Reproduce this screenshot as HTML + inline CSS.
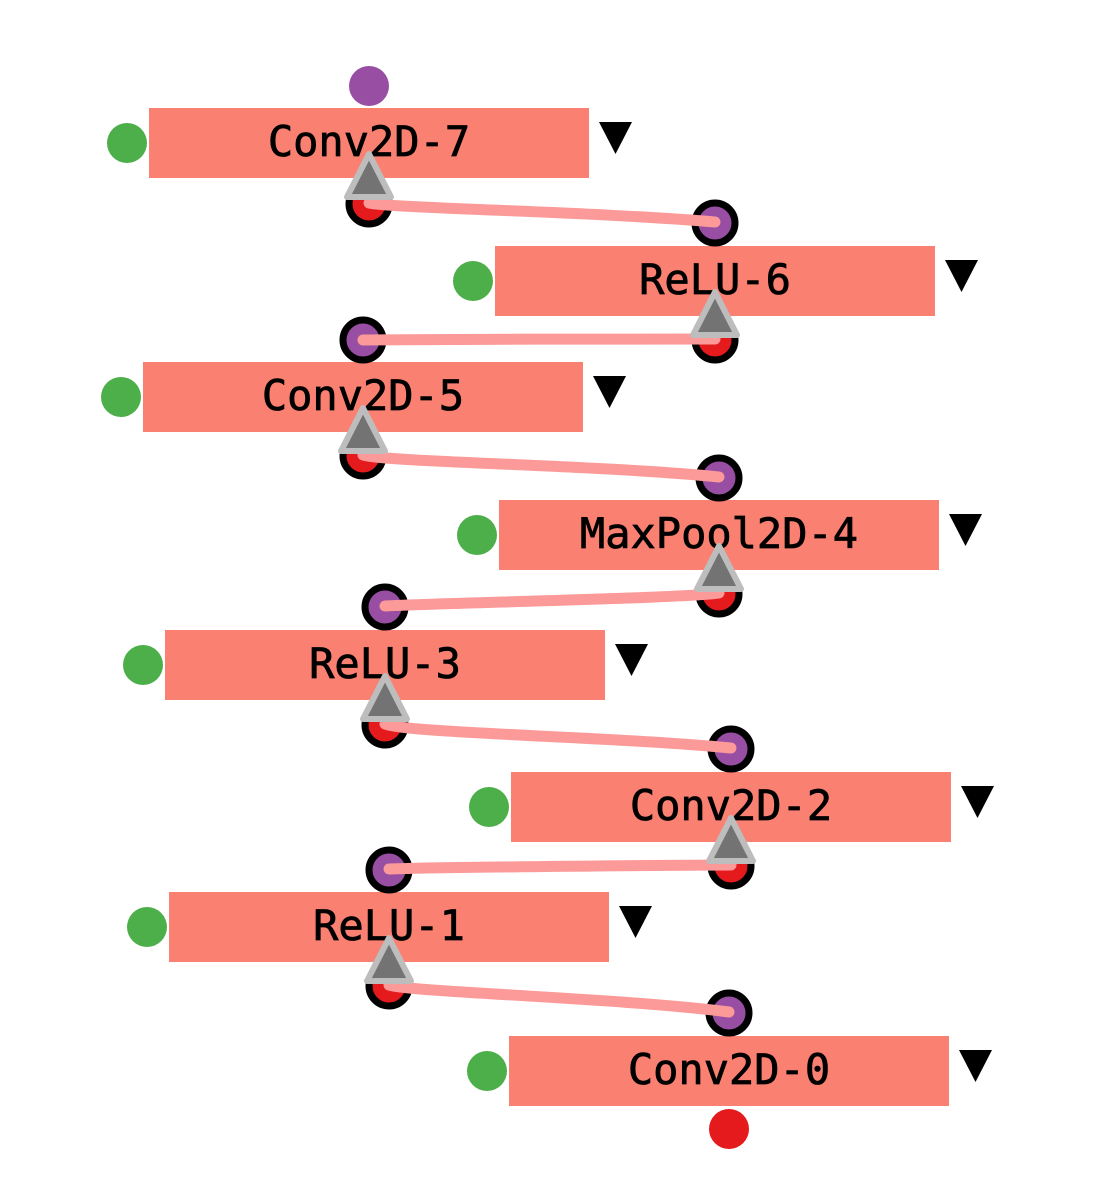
<!DOCTYPE html>
<html><head><meta charset="utf-8"><style>
html,body{margin:0;padding:0;background:#fff;}
svg{display:block;}
text{font-family:"DejaVu Sans Mono","Liberation Mono",monospace;font-size:42px;font-weight:normal;fill:#000;stroke:#000;stroke-width:0.8px;text-anchor:middle;}
</style></head><body>
<svg width="1106" height="1181" viewBox="0 0 1106 1181" xmlns="http://www.w3.org/2000/svg">
<g fill="#fa8072">
<rect x="149" y="108" width="440" height="70"/>
<rect x="495" y="246" width="440" height="70"/>
<rect x="143" y="362" width="440" height="70"/>
<rect x="499" y="500" width="440" height="70"/>
<rect x="165" y="630" width="440" height="70"/>
<rect x="511" y="772" width="440" height="70"/>
<rect x="169" y="892" width="440" height="70"/>
<rect x="509" y="1036" width="440" height="70"/>
</g>
<g>
<text x="369" y="156">Conv2D-7</text>
<text x="715" y="294">ReLU-6</text>
<text x="363" y="410">Conv2D-5</text>
<text x="719" y="548">MaxPool2D-4</text>
<text x="385" y="678">ReLU-3</text>
<text x="731" y="820">Conv2D-2</text>
<text x="389" y="940">ReLU-1</text>
<text x="729" y="1084">Conv2D-0</text>
</g>
<g fill="#4daf4a">
<circle cx="127" cy="143" r="20"/>
<circle cx="473" cy="281" r="20"/>
<circle cx="121" cy="397" r="20"/>
<circle cx="477" cy="535" r="20"/>
<circle cx="143" cy="665" r="20"/>
<circle cx="489" cy="807" r="20"/>
<circle cx="147" cy="927" r="20"/>
<circle cx="487" cy="1071" r="20"/>
</g>
<g fill="#000">
<polygon points="599,122 632,122 615.5,154"/>
<polygon points="945,260 978,260 961.5,292"/>
<polygon points="593,376 626,376 609.5,408"/>
<polygon points="949,514 982,514 965.5,546"/>
<polygon points="615,644 648,644 631.5,676"/>
<polygon points="961,786 994,786 977.5,818"/>
<polygon points="619,906 652,906 635.5,938"/>
<polygon points="959,1050 992,1050 975.5,1082"/>
</g>
<circle cx="369" cy="86" r="20" fill="#984ea3"/>
<circle cx="729" cy="1129" r="20" fill="#e41a1c"/>
<g fill="#e41a1c" stroke="#000" stroke-width="7">
<circle cx="369" cy="204" r="20"/>
<circle cx="715" cy="340" r="20"/>
<circle cx="363" cy="456" r="20"/>
<circle cx="719" cy="594" r="20"/>
<circle cx="385" cy="725" r="20"/>
<circle cx="731" cy="866" r="20"/>
<circle cx="389" cy="986" r="20"/>
</g>
<g fill="#984ea3" stroke="#000" stroke-width="7">
<circle cx="715" cy="223" r="20"/>
<circle cx="363" cy="340" r="20"/>
<circle cx="719" cy="478" r="20"/>
<circle cx="385" cy="607" r="20"/>
<circle cx="731" cy="749" r="20"/>
<circle cx="389" cy="870" r="20"/>
<circle cx="729" cy="1013" r="20"/>
</g>
<g fill="none" stroke="#fb9a99" stroke-width="11" stroke-linecap="round">
<path d="M369 203 C390 208, 600 212, 715 222"/>
<path d="M715 339 C690 339, 420 339, 363 340"/>
<path d="M363 455 C385 462, 600 465, 719 477"/>
<path d="M719 593 C690 598, 440 603, 385 606"/>
<path d="M385 724 C405 733, 620 737, 731 748"/>
<path d="M731 865 C700 865, 450 867, 389 869"/>
<path d="M389 985 C410 992, 620 998, 729 1012"/>
</g>
<g fill="#737373" stroke="#bdbdbd" stroke-width="6" stroke-linejoin="round">
<polygon points="369,154 347,197 391,197"/>
<polygon points="715,292 693,335 737,335"/>
<polygon points="363,408 341,451 385,451"/>
<polygon points="719,546 697,589 741,589"/>
<polygon points="385,676 363,719 407,719"/>
<polygon points="731,818 709,861 753,861"/>
<polygon points="389,938 367,981 411,981"/>
</g>
</svg>
</body></html>
